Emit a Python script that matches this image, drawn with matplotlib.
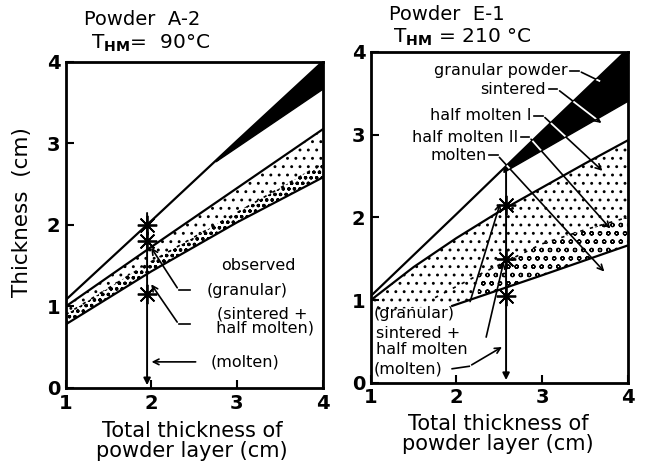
import numpy as np
import matplotlib.pyplot as plt

# ---- Powder A-2 (left) ----
a2_x = [1, 2, 3, 4]
a2_top = [1.08, 2.05, 3.03, 4.0]
a2_upper = [1.0, 1.73, 2.45, 3.17]
a2_dash = [0.9, 1.55, 2.15, 2.75]
a2_lower = [0.78, 1.43, 2.03, 2.58]
a2_wedge_x = [2.75, 4]
a2_wedge_lo = [2.78, 3.67]
a2_obs_x = 1.95
a2_obs_y = [2.0, 1.8, 1.15]

# ---- Powder E-1 (right) ----
e1_x = [1, 2, 3, 4]
e1_top = [1.05, 2.04, 3.04, 4.03]
e1_up_x = [1, 1.5, 2, 2.5, 3, 3.5, 4]
e1_upper = [1.0, 1.4, 1.75, 2.07, 2.36, 2.65, 2.93]
e1_low_x = [1, 1.95, 3, 4]
e1_lower = [0.88, 0.93, 1.3, 1.66]
e1_dash_x = [1.75, 2.25, 3.0, 3.5, 4.0]
e1_dash = [1.03, 1.3, 1.68, 1.85, 2.0]
e1_wedge_x = [2.55, 4]
e1_wedge_lo = [2.55, 3.41]
e1_obs_x = 2.58
e1_obs_y = [2.15, 1.5, 1.05]

ticks = [1, 2, 3, 4]
yticks = [0, 1, 2, 3, 4]

plt.rcParams['hatch.linewidth'] = 0.9
fig = plt.figure(figsize=(6.45, 4.68), dpi=100)
ax1 = fig.add_axes([0.102, 0.171, 0.398, 0.697])
ax2 = fig.add_axes([0.575, 0.182, 0.398, 0.707])

for ax in (ax1, ax2):
    ax.set_xlim(1, 4)
    ax.set_ylim(0, 4)
    ax.set_xticks(ticks)
    ax.set_yticks(yticks)
    ax.tick_params(direction='in', length=6, width=1.5, labelsize=14, pad=4)
    for lab in ax.get_xticklabels() + ax.get_yticklabels():
        lab.set_fontweight('bold')
    for s in ax.spines.values():
        s.set_linewidth(2)

lw = 1.6
afs = 11.5


def top_line_y(xs, ys, xq):
    return np.interp(xq, xs, ys)


def leader(ax, start, end, head=True, clip=None):
    ax.annotate('', xy=end, xytext=start,
                arrowprops=dict(arrowstyle='->' if head else '-', color='k', lw=1.2))
    if clip is not None:
        ln, = ax.plot([start[0], end[0]], [start[1], end[1]], color='white', lw=1.3, zorder=5)
        ln.set_clip_path(clip.get_paths()[0], ax.transData)


# ---------- left panel ----------
ax1.plot(a2_x, a2_top, 'k-', lw=lw)
ax1.fill_between(a2_x, a2_lower, a2_upper, facecolor='white', edgecolor='k',
                 hatch='..', linewidth=0)
ax1.fill_between(a2_x, a2_lower, a2_dash, facecolor='white', edgecolor='k',
                 hatch='ooo', linewidth=0)
ax1.plot(a2_x, a2_dash, 'k', lw=1.2, ls=(0, (2, 4)))
ax1.plot(a2_x, a2_upper, 'k-', lw=lw)
ax1.plot(a2_x, a2_lower, 'k-', lw=lw)
wx = np.array(a2_wedge_x)
ax1.fill_between(wx, a2_wedge_lo, top_line_y(a2_x, a2_top, wx), color='k')

# observed column
ax1.annotate('', xy=(a2_obs_x, 0), xytext=(a2_obs_x, 2.18),
             arrowprops=dict(arrowstyle='-|>', color='k', lw=1.4))
ax1.plot([a2_obs_x] * 3, a2_obs_y, 'k', ls='none', marker=(8, 2, 0), ms=14, mew=1.3)

ax1.text(3.25, 1.5, 'observed', fontsize=afs, ha='center', va='center')
ax1.text(3.12, 1.2, '(granular)', fontsize=afs, ha='center', va='center')
ax1.text(3.3, 0.82, '(sintered +\n half molten)', fontsize=afs, ha='center',
         va='center', linespacing=0.95)
ax1.text(3.1, 0.32, '(molten)', fontsize=afs, ha='center', va='center')
ax1.plot([2.45, 2.32], [1.2, 1.2], 'k-', lw=1.2)
leader(ax1, (2.32, 1.2), (1.98, 1.75))
ax1.plot([2.45, 2.32], [0.78, 0.78], 'k-', lw=1.2)
leader(ax1, (2.32, 0.78), (1.98, 1.3))
leader(ax1, (2.55, 0.32), (1.97, 0.32))

# ---------- right panel ----------
ax2.plot(e1_x, e1_top, 'k-', lw=lw)
ax2.fill_between(e1_up_x, np.interp(e1_up_x, e1_low_x, e1_lower), e1_upper,
                 facecolor='white', edgecolor='k', hatch='..', linewidth=0)
cx = np.array(e1_dash_x[1:])
ax2.fill_between(cx, np.interp(cx, e1_low_x, e1_lower), e1_dash[1:],
                 facecolor='white', edgecolor='k', hatch='oo', linewidth=0)
ax2.plot(e1_dash_x, e1_dash, 'k', lw=1.2, ls=(0, (2, 4)))
ax2.plot(e1_up_x, e1_upper, 'k-', lw=lw)
ax2.plot(e1_low_x[1:], e1_lower[1:], 'k-', lw=lw)
wx = np.array(e1_wedge_x)
wedge = ax2.fill_between(wx, e1_wedge_lo, top_line_y(e1_x, e1_top, wx), color='k')

ax2.annotate('', xy=(e1_obs_x, 0), xytext=(e1_obs_x, 2.6),
             arrowprops=dict(arrowstyle='-|>', color='k', lw=1.4))
ax2.plot([e1_obs_x] * 3, e1_obs_y, 'k', ls='none', marker=(8, 2, 0), ms=14, mew=1.3)

# upper labels with leaders
top_labels = [
    ('granular powder', 3.3, 3.77, (3.67, 3.65), False),
    ('sintered', 3.05, 3.55, (3.72, 3.12), True),
    ('half molten I', 2.88, 3.23, (3.73, 2.54), True),
    ('half molten II', 2.72, 2.97, (3.82, 1.84), True),
    ('molten', 2.35, 2.75, (3.75, 1.32), True),
]
for txt, tx, ty, end, head in top_labels:
    ax2.text(tx, ty, txt, fontsize=afs, ha='right', va='center')
    ax2.plot([tx + 0.03, tx + 0.13], [ty, ty], 'k-', lw=1.2)
    leader(ax2, (tx + 0.13, ty), end, head, clip=wedge)

ax2.text(1.03, 0.84, '(granular)', fontsize=afs, ha='left', va='center')
ax2.text(1.06, 0.6, 'sintered +', fontsize=afs, ha='left', va='center')
ax2.text(1.06, 0.4, 'half molten', fontsize=afs, ha='left', va='center')
ax2.text(1.03, 0.17, '(molten)', fontsize=afs, ha='left', va='center')
leader(ax2, (2.15, 0.95), (2.52, 2.2))
leader(ax2, (2.34, 0.52), (2.56, 1.5))
ax2.plot([1.95, 2.15], [0.17, 0.2], 'k-', lw=1.2)
leader(ax2, (2.15, 0.2), (2.56, 0.45))

# titles and axis labels
tkw = dict(ha='center', va='center')
fig.text(0.220, 0.959, 'Powder  A-2', fontsize=14, **tkw)
fig.text(0.233, 0.908, r'T$_{\mathbf{HM}}$=  90°C', fontsize=14.5, **tkw)
fig.text(0.693, 0.968, 'Powder  E-1', fontsize=14, **tkw)
fig.text(0.716, 0.921, r'T$_{\mathbf{HM}}$ = 210 °C', fontsize=14.5, **tkw)
fig.text(0.034, 0.547, 'Thickness  (cm)', fontsize=15.5, rotation=90, **tkw)
fig.text(0.298, 0.058, 'Total thickness of\npowder layer (cm)', fontsize=15,
         linespacing=1.0, **tkw)
fig.text(0.772, 0.073, 'Total thickness of\npowder layer (cm)', fontsize=15,
         linespacing=1.0, **tkw)

fig.savefig('out.png', dpi=100)
